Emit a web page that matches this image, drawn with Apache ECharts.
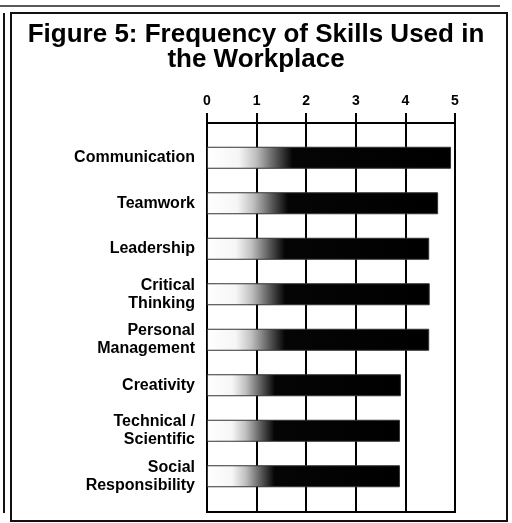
<!DOCTYPE html>
<html>
<head>
<meta charset="utf-8">
<script src="https://cdn.jsdelivr.net/npm/echarts@6/dist/echarts.min.js"></script>
<style>
html,body{margin:0;padding:0;background:#fff;}
#chart{width:512px;height:523px;}
</style>
</head>
<body>
<div id="chart"></div>
<script>
const titleText = 'Figure 5: Frequency of Skills Used in\nthe Workplace';
const categories = ['Communication', 'Teamwork', 'Leadership', 'Critical\nThinking', 'Personal\nManagement', 'Creativity', 'Technical /\nScientific', 'Social\nResponsibility'];
const values = [4.92, 4.66, 4.48, 4.49, 4.48, 3.91, 3.89, 3.89];
const tickLabels = ['0', '1', '2', '3', '4', '5'];

const FONT = '"Liberation Sans", Arial, Helvetica, sans-serif';
const chart = echarts.init(document.getElementById('chart'), null, {renderer: 'canvas'});

const barGradient = new echarts.graphic.LinearGradient(0, 0, 1, 0, [
  {offset: 0, color: '#ffffff'},
  {offset: 0.13, color: '#f6f6f6'},
  {offset: 0.2, color: '#c0c0c0'},
  {offset: 0.28, color: '#5a5a5a'},
  {offset: 0.35, color: '#050505'},
  {offset: 1, color: '#000000'}
]);

chart.setOption({
  animation: false,
  backgroundColor: '#fff',
  title: {
    text: titleText,
    left: 'center',
    top: 17,
    textStyle: {fontFamily: FONT, fontWeight: 'bold', fontSize: 26, lineHeight: 25, color: '#000'}
  },
  graphic: [
    {type: 'line', shape: {x1: 0, y1: 6, x2: 500, y2: 6}, style: {stroke: '#222', lineWidth: 1.5}, silent: true},
    {type: 'line', shape: {x1: 4, y1: 13, x2: 4, y2: 513}, style: {stroke: '#111', lineWidth: 2}, silent: true},
    {type: 'rect', shape: {x: 11, y: 13, width: 496, height: 508}, style: {fill: 'none', stroke: '#111', lineWidth: 2}, silent: true}
  ],
  grid: [
    {left: 207, top: 123, width: 248, height: 389, show: true, borderColor: '#000', borderWidth: 2, backgroundColor: 'transparent'},
    {left: 207, top: 135, width: 248, height: 364}
  ],
  xAxis: [
    {
      gridIndex: 0, type: 'value', position: 'top', min: 0, max: 5, interval: 1,
      axisLine: {show: true, onZero: false, lineStyle: {color: '#000', width: 2}},
      axisTick: {show: true, inside: false, length: 10, lineStyle: {color: '#000', width: 2}},
      axisLabel: {
        margin: 15, color: '#000', fontFamily: FONT, fontWeight: 'bold', fontSize: 14,
        formatter: function (v) { return tickLabels[Math.round(v)]; }
      },
      splitLine: {show: true, lineStyle: {color: '#000', width: 2}}
    },
    {gridIndex: 1, type: 'value', min: 0, max: 5, interval: 1, show: false}
  ],
  yAxis: [
    {gridIndex: 0, type: 'value', min: 0, max: 1, show: false},
    {
      gridIndex: 1, type: 'category', inverse: true, data: categories,
      axisLine: {show: false}, axisTick: {show: false}, splitLine: {show: false},
      axisLabel: {margin: 12, color: '#000', fontFamily: FONT, fontWeight: 'bold', fontSize: 16, lineHeight: 18, align: 'right'}
    }
  ],
  series: [{
    type: 'bar',
    xAxisIndex: 1, yAxisIndex: 1,
    data: values,
    barWidth: 22,
    itemStyle: {color: barGradient, borderColor: '#333', borderWidth: 1}
  }]
});
</script>
</body>
</html>
